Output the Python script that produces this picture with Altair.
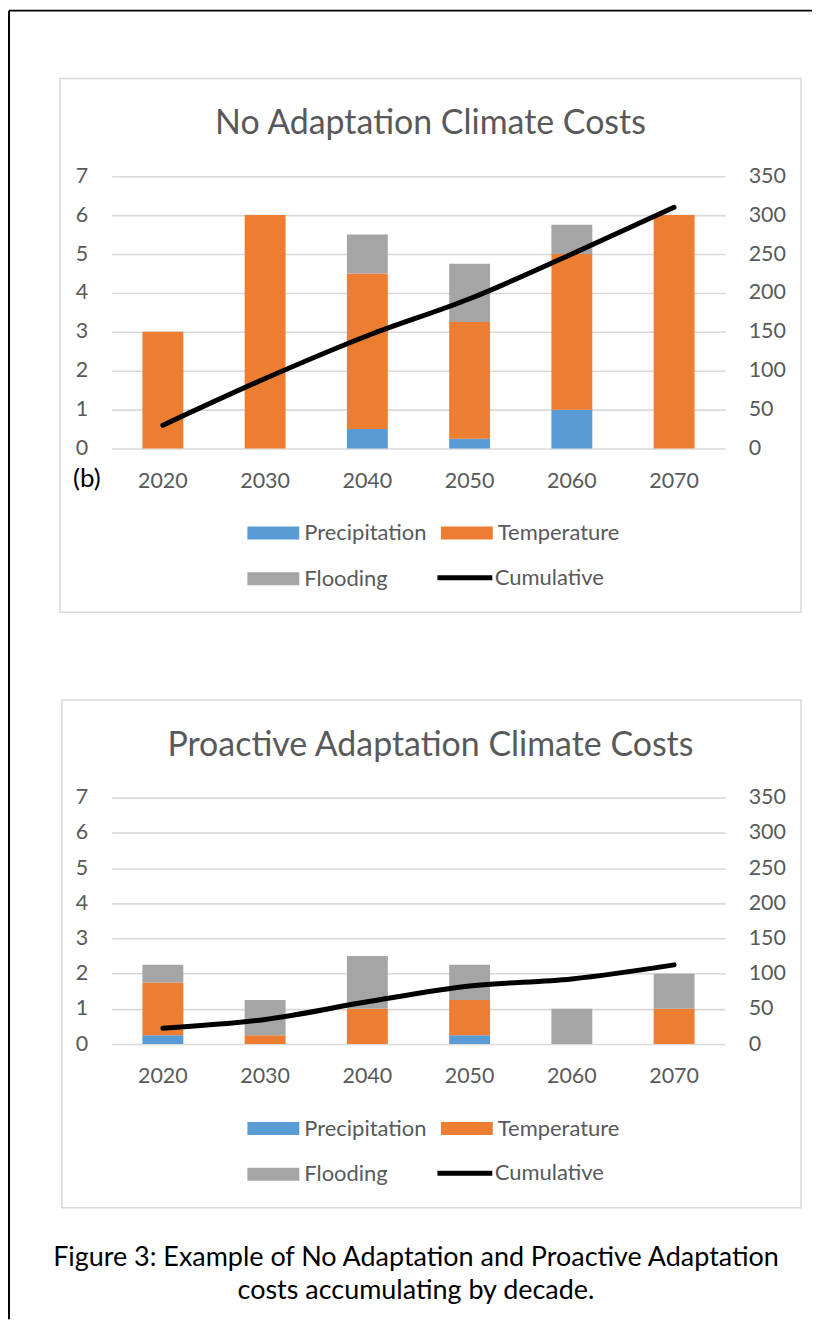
import altair as alt
import pandas as pd

decades = ["2020", "2030", "2040", "2050", "2060", "2070"]
series = ["Precipitation", "Temperature", "Flooding"]
colors = ["#5b9bd5", "#ed7d31", "#a5a5a5"]
legend_order = ["Precipitation", "Flooding", "Temperature"]
line_series = ["Cumulative"]
line_color = ["#000000"]

# No Adaptation
no_precip = [0, 0, 0.5, 0.25, 1, 0]
no_temp = [3, 6, 4, 3, 4, 6]
no_flood = [0, 0, 1, 1.5, 0.75, 0]
no_cum = [30, 90, 145, 192.5, 250, 310]

# Proactive Adaptation
pro_precip = [0.25, 0, 0, 0.25, 0, 0]
pro_temp = [1.5, 0.25, 1, 1, 0, 1]
pro_flood = [0.5, 1, 1.5, 1, 1, 1]
pro_cum = [22.5, 35, 60, 82.5, 92.5, 112.5]

left_ticks = [0, 1, 2, 3, 4, 5, 6, 7]
right_ticks = [0, 50, 100, 150, 200, 250, 300, 350]

title1 = "No Adaptation Climate Costs"
title2 = "Proactive Adaptation Climate Costs"
panel_tag = "(b)"
caption = "Figure 3: Example of No Adaptation and Proactive Adaptation\ncosts accumulating by decade."

FONT = "Lato"
GREY = "#595959"
W = 615

RECT_PATH = "M-1.156,-0.289H1.156V0.289H-1.156Z"


def bars_df(p, t, f):
    rows = []
    for i, d in enumerate(decades):
        for k, (s, v) in enumerate(zip(series, [p[i], t[i], f[i]])):
            rows.append({"decade": d, "series": s, "value": v, "order": k})
    return pd.DataFrame(rows)


def one(text):
    return pd.DataFrame({"t": [text]})


def panel(p, t, f, cum, title, h, row1_y, frame, extra=None):
    bdf = bars_df(p, t, f)
    cdf = pd.DataFrame({"decade": decades, "cum": cum, "series": ["Cumulative"] * len(decades)})
    xenc = alt.X(
        "decade:N", sort=decades,
        scale=alt.Scale(paddingInner=0.6, paddingOuter=0.3),
        axis=alt.Axis(title=None, labelAngle=0, domain=False, ticks=False, tickSize=0,
                      labelPadding=22, labelFont=FONT, labelFontSize=21.5, labelColor=GREY),
    )
    bars = alt.Chart(bdf).mark_bar().encode(
        x=xenc,
        y=alt.Y("value:Q", stack="zero",
                scale=alt.Scale(domain=[0, 7], nice=False),
                axis=alt.Axis(title=None, values=left_ticks, domain=False, ticks=False, tickSize=0,
                              labelPadding=24, labelFont=FONT, labelFontSize=21.5, labelColor=GREY,
                              grid=True, gridColor="#d9d9d9", gridWidth=1.6)),
        color=alt.Color("series:N",
                        scale=alt.Scale(domain=series, range=colors),
                        legend=alt.Legend(
                            orient="none", legendX=139.5, legendY=row1_y - 22,
                            values=legend_order,
                            columns=2, title=None, padding=0,
                            symbolType=RECT_PATH, symbolSize=2025, symbolStrokeWidth=0,
                            labelOffset=8.5, columnPadding=13, rowPadding=12,
                            labelFont=FONT, labelFontSize=22, labelColor=GREY,
                        )),
        order=alt.Order("order:Q"),
    )
    line = alt.Chart(cdf).mark_line(strokeWidth=5, strokeCap="round",
                                    strokeJoin="round", interpolate="monotone").encode(
        x=xenc,
        y=alt.Y("cum:Q", scale=alt.Scale(domain=[0, 350], nice=False),
                axis=alt.Axis(orient="right", title=None, values=right_ticks, grid=False,
                              domain=False, ticks=False, tickSize=0, labelPadding=23,
                              labelFont=FONT, labelFontSize=21.5, labelColor=GREY)),
        color=alt.Color("series:N",
                        scale=alt.Scale(domain=line_series, range=line_color),
                        legend=alt.Legend(
                            orient="none", legendX=324, legendY=row1_y + 45 - 29.5,
                            title=None, padding=0, symbolType="stroke", symbolSize=3025,
                            symbolStrokeWidth=5, labelOffset=0,
                            labelFont=FONT, labelFontSize=22, labelColor=GREY,
                        )),
    )
    box = alt.Chart(one("")).mark_rect(fillOpacity=0, stroke="#d9d9d9", strokeWidth=1.5).encode(
        x=alt.value(frame[0]), x2=alt.value(frame[1]), y=alt.value(frame[2]), y2=alt.value(frame[3]))
    ttl = alt.Chart(one(title)).mark_text(font=FONT, fontSize=34, color=GREY, align="center",
                                          baseline="alphabetic").encode(
        text="t:N", x=alt.value(319.5), y=alt.value(-42))
    layers = [box, ttl]
    if extra:
        layers += extra
    layers += [bars, line]
    return alt.layer(*layers).resolve_scale(y="independent", color="independent").properties(
        width=W, height=h)


H1 = 273
H2 = 247

outer_top = alt.Chart(one("")).mark_rule(color="black", strokeWidth=2).encode(
    x=alt.value(-103), x2=alt.value(702), y=alt.value(-166))
outer_left = alt.Chart(one("")).mark_rule(color="black", strokeWidth=2).encode(
    x=alt.value(-103), y=alt.value(-166), y2=alt.value(1146))
tag = alt.Chart(one(panel_tag)).mark_text(font=FONT, fontSize=26, color="black", align="center",
                                           baseline="alphabetic").encode(
    text="t:N", x=alt.value(-25), y=alt.value(H1 + 39))

p1 = panel(no_precip, no_temp, no_flood, no_cum, title1, H1, 532 - 175,
           (-52, 691, -98, 437), extra=[outer_top, outer_left, tag])

cap = alt.Chart(one(caption)).mark_text(font=FONT, fontSize=27, color="black", align="center",
                                        baseline="alphabetic", lineBreak="\n", lineHeight=34).encode(
    text="t:N", x=alt.value(305), y=alt.value(469))

p2 = panel(pro_precip, pro_temp, pro_flood, pro_cum, title2, H2, 1129 - 798,
           (-50, 691, -98, 411), extra=[cap])

chart = alt.vconcat(p1, p2, spacing=350, bounds="flush").resolve_scale(
    color="independent").resolve_legend(color="independent").properties(
    padding=0).configure_view(strokeWidth=0)

chart.save("out.html", embed_options={"renderer": "svg", "actions": False})
